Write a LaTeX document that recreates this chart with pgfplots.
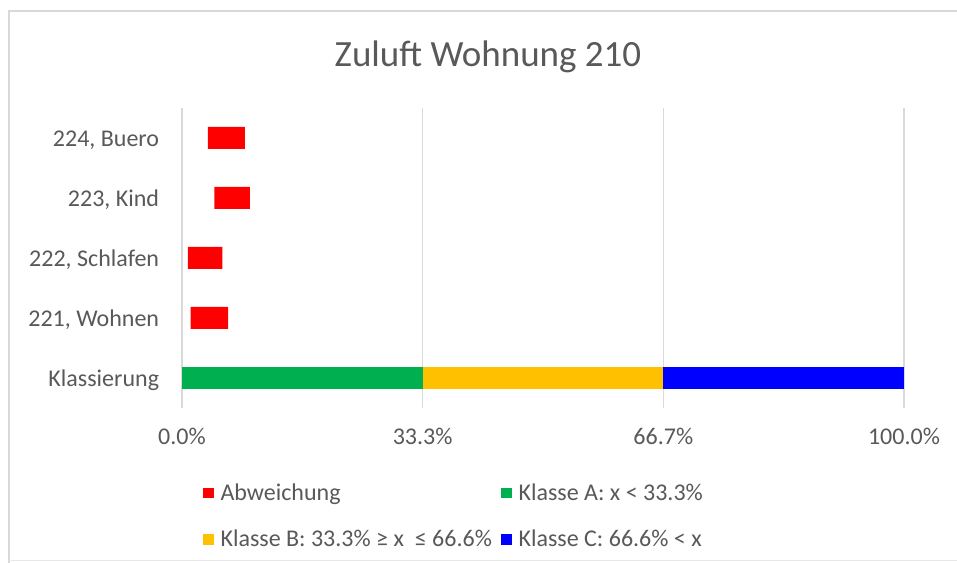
\documentclass[border=0pt]{standalone}
\usepackage{fontspec}
\setmainfont{Carlito}
\usepackage{pgfplots}
\pgfplotsset{compat=1.18}
\definecolor{txtgray}{HTML}{595959}
\definecolor{gridgray}{HTML}{D9D9D9}
\definecolor{exred}{HTML}{FF0000}
\definecolor{exgreen}{HTML}{00B050}
\definecolor{exyellow}{HTML}{FFC000}
\definecolor{exblue}{HTML}{0000FF}
\begin{document}
\begin{tikzpicture}[x=0.75pt,y=0.75pt]
\path[use as bounding box, fill=white] (0,0) rectangle (957,563);
\draw[gridgray, line width=1.5pt] (9,0) -- (9,552) -- (957,552);
\draw[gridgray!60, line width=0.75pt] (9,2) -- (957,2);
\node[text=txtgray, font=\fontsize{27.75}{33}\selectfont] at (488,506) {Zuluft Wohnung 210};
\begin{axis}[
  at={(136.5pt,116.25pt)}, anchor=south west,
  scale only axis, width=541.5pt, height=225pt,
  xbar stacked, bar width=16.5pt,
  xmin=0, xmax=100, ymin=-0.5, ymax=4.5,
  xtick={0,33.333,66.667,100},
  xticklabels={0.0\%,33.3\%,66.7\%,100.0\%},
  ytick={0,1,2,3,4},
  yticklabels={Klassierung,{221, Wohnen},{222, Schlafen},{223, Kind},{224, Buero}},
  major tick length=0pt,
  axis line style={draw=none},
  xmajorgrids, ymajorgrids=false,
  grid style={gridgray, line width=1pt},
  tick label style={text=txtgray, font=\fontsize{18}{21}\selectfont, inner sep=0pt},
  xticklabel style={anchor=base, yshift=-27.5pt},
  yticklabel style={anchor=mid east, xshift=-17pt, yshift=-4pt},
  legend columns=2,
  legend cell align=left,
  legend style={at={(0.029,-0.242)}, anchor=north west, draw=none, fill=none,
    inner sep=0pt, font=\fontsize{18}{21}\selectfont, text=txtgray,
    row sep=17pt,
    /tikz/every odd column/.append style={column sep=3pt},
    /tikz/every even column/.append style={column sep=5pt}},
  legend image code/.code={\fill[#1] (0pt,-4pt) rectangle (8pt,4pt);},
]
\addplot[fill=none, draw=none, forget plot] coordinates {(0,0) (1.2,1) (0.8,2) (4.5,3) (3.6,4)};
\addplot[fill=exred, draw=none] coordinates {(0,0) (5.2,1) (4.8,2) (4.9,3) (5.1,4)};
\addplot[fill=exgreen, draw=none] coordinates {(33.333,0) (0,1) (0,2) (0,3) (0,4)};
\addplot[fill=exyellow, draw=none] coordinates {(33.334,0) (0,1) (0,2) (0,3) (0,4)};
\addplot[fill=exblue, draw=none] coordinates {(33.333,0) (0,1) (0,2) (0,3) (0,4)};
\legend{Abweichung, {Klasse A: x < 33.3\%}, {Klasse B: 33.3\% ≥ x\ \ ≤ 66.6\%}, {Klasse C: 66.6\% < x}}
\end{axis}
\end{tikzpicture}
\end{document}
